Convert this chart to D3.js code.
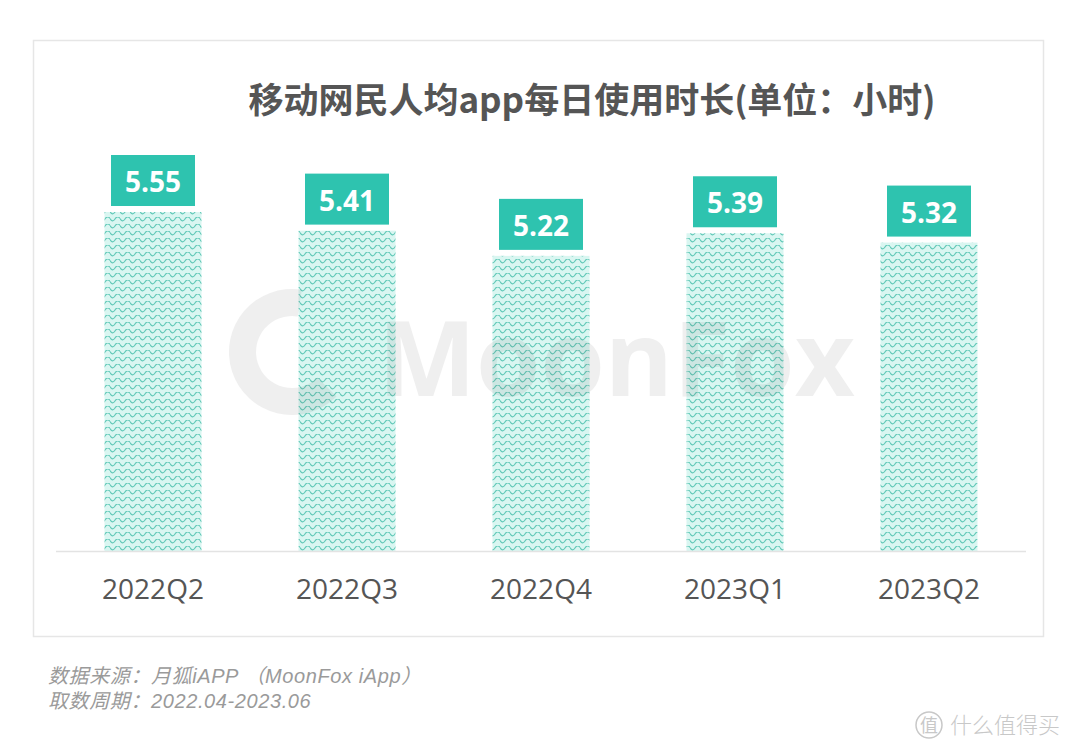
<!DOCTYPE html>
<html><head><meta charset="utf-8">
<script src="https://cdn.jsdelivr.net/npm/d3@7"></script>
<style>
html,body{margin:0;padding:0;background:#fff;}
svg{display:block;}
</style></head>
<body>
<svg id="chart" width="1080" height="755"></svg>
<script>
const categories = ["2022Q2","2022Q3","2022Q4","2023Q1","2023Q2"];
const values = [5.55,5.41,5.22,5.39,5.32];
const title = "移动网民人均app每日使用时长(单位：小时)";
const sourceLines = ["数据来源：月狐iAPP （MoonFox iApp）","取数周期：2022.04-2023.06"];

const svg = d3.select("#chart");
const teal = "#2ec3af";

// pattern
const defs = svg.append("defs");
const pat = defs.append("pattern").attr("id","wave").attr("patternUnits","userSpaceOnUse")
  .attr("width",10).attr("height",7);
pat.append("rect").attr("width",10).attr("height",7).attr("fill","#d9f6f1");
pat.append("path").attr("d","M0,1.5 Q2.5,6 5,2 Q7.5,-2 10,1.5").attr("fill","none")
  .attr("stroke","#62c9b8").attr("stroke-width",1.2);

// frame
svg.append("rect").attr("x",33.5).attr("y",40.5).attr("width",1010).attr("height",596)
  .attr("fill","#fff").attr("stroke","#e6e6e6").attr("stroke-width",1.5);

const x = d3.scaleBand().domain(categories).range([56,1026]).paddingInner(0.5).paddingOuter(0.25);
const y = d3.scaleLinear().domain([3,5.55]).range([551,212]);

// title
svg.append("text").attr("x",592).attr("y",113).attr("text-anchor","middle")
  .attr("font-family","'Noto Sans CJK SC', sans-serif").attr("font-weight","bold")
  .attr("font-size",35).attr("fill","#555").text(title);

// bars
svg.append("g").selectAll("rect").data(values).join("rect")
  .attr("x",(d,i)=>x(categories[i])).attr("y",d=>y(d))
  .attr("width",x.bandwidth()).attr("height",d=>y(3)-y(d))
  .attr("fill","url(#wave)");

// watermark
const wm = svg.append("g").attr("opacity",0.09).attr("fill","#555");
wm.append("path").attr("d", d3.arc()({innerRadius:36,outerRadius:63,startAngle:Math.PI*0.75,endAngle:Math.PI*2.05}))
  .attr("transform","translate(292,352)");
wm.append("text").attr("x",378).attr("y",396).attr("font-family","'Open Sans', sans-serif")
  .attr("font-weight","bold").attr("font-size",104).attr("letter-spacing",0).text("MoonFox");

// baseline
svg.append("line").attr("x1",56).attr("x2",1026).attr("y1",551.5).attr("y2",551.5)
  .attr("stroke","#e3e3e3").attr("stroke-width",1.5);

// value labels
const lab = svg.append("g").selectAll("g").data(values).join("g")
  .attr("transform",(d,i)=>`translate(${x(categories[i])+x.bandwidth()/2},${y(d)-6})`);
lab.append("rect").attr("x",-42).attr("y",-51).attr("width",84).attr("height",51).attr("fill",teal);
lab.append("text").attr("y",-14).attr("text-anchor","middle").attr("fill","#fff")
  .attr("font-family","'Open Sans', sans-serif").attr("font-weight","bold").attr("font-size",28)
  .text(d=>d.toFixed(2));

// x axis labels
const xAxis = d3.axisBottom(x).tickSize(0).tickPadding(28);
const gx = svg.append("g").attr("transform","translate(0,551)").call(xAxis);
gx.select(".domain").remove();
gx.selectAll("text").attr("font-family","'Open Sans', sans-serif").attr("font-size",28)
  .attr("fill","#555").attr("dy","0.71em");

// source
svg.append("g").selectAll("text").data(sourceLines).join("text")
  .attr("x",48).attr("y",(d,i)=>683+i*25)
  .attr("font-family","'Liberation Sans', 'Noto Sans CJK SC', sans-serif").attr("font-style","italic")
  .attr("font-size",20).attr("letter-spacing",0.6).attr("fill","#9a9a9a")
  .text(d=>d);

// bottom right logo
const lg = svg.append("g").attr("fill","#c8c8c8");
lg.append("circle").attr("cx",929).attr("cy",725).attr("r",13).attr("fill","none").attr("stroke","#c8c8c8").attr("stroke-width",1.5);
lg.append("text").attr("x",929).attr("y",732).attr("text-anchor","middle").attr("font-size",18)
  .attr("font-family","'Noto Sans CJK SC', sans-serif").text("值");
lg.append("text").attr("x",950).attr("y",733).attr("font-size",22)
  .attr("font-family","'Noto Sans CJK SC', sans-serif").attr("font-weight",300).text("什么值得买");
</script>
</body></html>
